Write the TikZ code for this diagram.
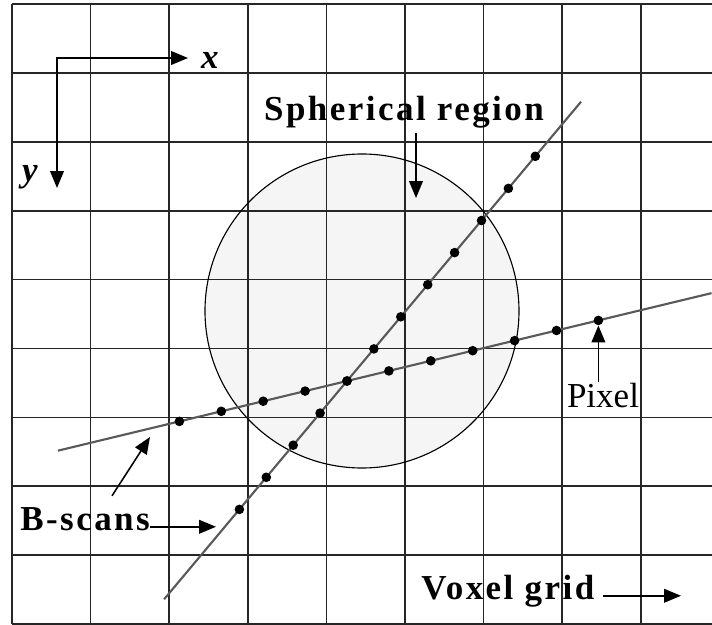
\documentclass[tikz,border=0pt]{standalone}
\usepackage{fontspec}
\setmainfont{Liberation Serif}
\usetikzlibrary{arrows.meta, positioning, calc}
\newcommand\diagsize{\fontsize{24.9}{30}\selectfont}

\begin{document}
\begin{tikzpicture}[
    x=0.025cm, y=-0.025cm,
    >={Triangle[length=0.42cm, width=0.34cm]},
    gridline/.style={draw=black!85, line width=1.25pt},
    scanline/.style={draw=black!65, line width=1.5pt},
    pix/.style={circle, fill=black, inner sep=0pt, minimum size=0.24cm},
    lbl/.style={inner sep=0pt,
                font=\diagsize\bfseries\addfontfeatures{LetterSpace=7}},
    axlbl/.style={inner sep=0pt, font=\diagsize\bfseries\itshape},
    ptr/.style={->, line width=1.1pt}
  ]
  \useasboundingbox[fill=white] (0,0) rectangle (712,625);
  % spherical region under the grid
  \fill[black!4] (362,311) circle[radius=157];
  % voxel grid
  \foreach \i in {0,...,8}
    \draw[gridline] ({12+78.6*\i},4) -- ({12+78.6*\i},624);
  \foreach \j in {0,...,9}
    \draw[gridline] (12,{4+68.9*\j}) -- (712,{4+68.9*\j});
  \draw[line width=0.8pt] (362,311) circle[radius=157];

  % two b-scans crossing at P
  \coordinate (P) at (347,381);
  \coordinate (aend1) at ($(P)+(-6.8*26.9,6.8*32.1)$);
  \coordinate (aend2) at ($(P)+(8.7*26.9,-8.7*32.1)$);
  \coordinate (bend1) at ($(P)+(-6.9*41.9,6.9*10.1)$);
  \coordinate (bend2) at ($(P)+(8.7*41.9,-8.7*10.1)$);
  \draw[scanline] (aend1) -- (aend2);
  \draw[scanline] (bend1) -- (bend2);
  \foreach \k in {1,...,12}
    \node[pix] (a\k) at ($(P)+({(\k-5)*26.9},{-(\k-5)*32.1})$) {};
  \foreach \k in {1,...,11}
    \node[pix] (b\k) at ($(P)+({(\k-5)*41.9},{-(\k-5)*10.1})$) {};

  % axes
  \coordinate (xtip) at (188,58);
  \coordinate (ytip) at (57,188);
  \draw[ptr, <->] (xtip) -| (ytip);
  \node[axlbl] (xlbl) at (210,60) {x};
  \node[axlbl] (ylbl) at (30,177) {y};

  % labels
  \node[lbl, anchor=base] (spherelbl) at (404,120) {Spherical region};
  \coordinate (sphtip) at (416,198);
  \draw[ptr] ($(spherelbl.south -| sphtip)+(0,5)$) -- (sphtip);

  \node[inner sep=0pt, font=\diagsize, anchor=base] (pixellbl) at (603,407) {Pixel};
  \draw[ptr] (b11.south |- pixellbl.north) -- (b11.south);

  \node[lbl, anchor=base west] (bscanlbl) at (20,530) {B-scans};
  \coordinate (bstip1) at (216,522);
  \coordinate (bstip2) at (150,437);
  \draw[ptr] (bscanlbl.mid east) -- (bstip1 |- bscanlbl.mid east);
  \draw[ptr] ($(bscanlbl.north)+(27,-11)$) -- (bstip2);

  \node[lbl, anchor=base west] (voxellbl) at (421,599) {Voxel grid};
  \coordinate (voxtip) at (681,590);
  \draw[ptr] ($(voxellbl.mid east)+(8,0)$) -- (voxellbl.mid east -| voxtip);
\end{tikzpicture}
\end{document}
